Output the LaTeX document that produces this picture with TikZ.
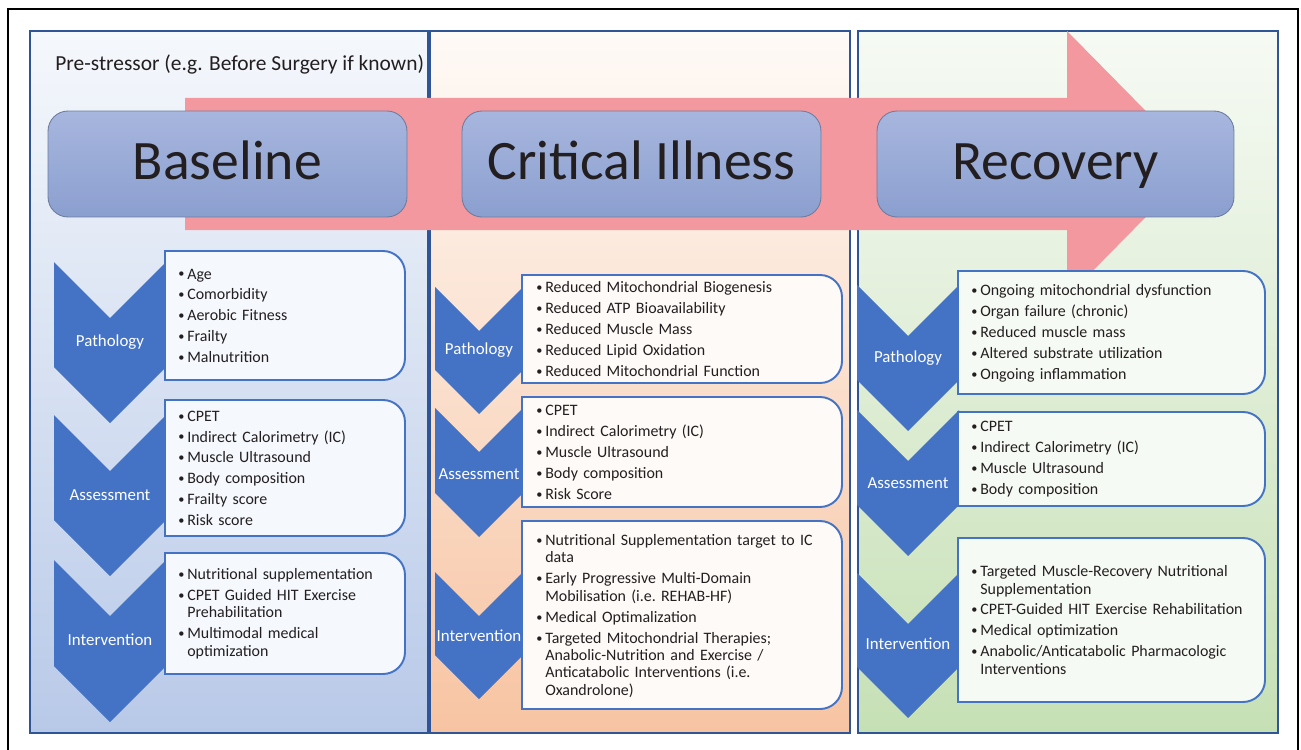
\documentclass[tikz,border=0pt]{standalone}
\usepackage{fontspec}
\setmainfont{Carlito}
\usepackage{tikz}
\definecolor{chevblue}{HTML}{4472C4}
\definecolor{framblue}{HTML}{2F5597}
\definecolor{arrowpink}{HTML}{F4989F}
\definecolor{inkgray}{HTML}{231F20}
\definecolor{titletop}{HTML}{A7B6DE}
\definecolor{titlebot}{HTML}{8B9FCF}
\definecolor{titleedge}{HTML}{6E7C9E}
\definecolor{boxblue}{HTML}{F5F8FC}
\definecolor{boxpeach}{HTML}{FEFAF7}
\definecolor{boxgreen}{HTML}{F6FAF4}
\definecolor{colblue}{RGB}{184,201,232}
\definecolor{colpeach}{RGB}{247,196,162}
\definecolor{colgreen}{RGB}{198,224,181}
\newcommand{\itm}{\par\leftskip=5.1pt\relax\noindent\hspace*{-5.1pt}\makebox[5.1pt][l]{\raisebox{0.6pt}{\fontsize{7}{7}\selectfont\textbullet}}}

\begin{document}
\begin{tikzpicture}[x=0.02cm,y=-0.02cm,
  panel/.style={draw=framblue,line width=1.4pt},
  chev/.style={fill=chevblue},
  tbox/.style={draw=chevblue,line width=1.1pt},
  title/.style={draw=titleedge,line width=0.5pt,rounded corners=0.4cm,top color=titletop,bottom color=titlebot,
    minimum width=7.18cm,minimum height=2.12cm,text height=24pt,text depth=6pt,
    font=\fontsize{31.7}{38}\selectfont,text=inkgray},
  lbl/.style={text=white,inner sep=0pt,font=\fontsize{9.6}{11}\selectfont},
  items/.style={anchor=west,inner sep=0pt,align=left,text=inkgray,
    font=\fontsize{9.07}{9.92}\selectfont\frenchspacing\setlength{\parskip}{2pt}}]
\useasboundingbox (0,0) rectangle (1301,750);
\clip (0,0) rectangle (1301,750);
\fill[white] (0,0) rectangle (1301,750);
\draw[line width=1.1pt] (8,9) rectangle (1298,800);
%columns
\draw[panel,top color=boxblue,bottom color=colblue] (30,31) rectangle (428,733);
\draw[panel,top color=boxpeach,bottom color=colpeach] (430,31) rectangle (850,733);
\draw[panel,top color=boxgreen,bottom color=colgreen] (858,31) rectangle (1278,733);
%big arrow
\fill[arrowpink] (185,98) -- (1067,98) -- (1067,31) -- (1198,164) -- (1067,297) -- (1067,230) -- (185,230) -- cycle;
\node[anchor=base west,inner sep=0pt,text=inkgray,font=\fontsize{12.2}{14}\selectfont] (pre) at (55,71) {Pre-stressor (e.g. Before Surgery if known)};
\node[title] (base) at (227.5,164) {Baseline};
\node[title] (crit) at (641.5,164) {Critical Illness};
\node[title,minimum width=7.14cm] (reco) at (1055.5,164) {Recovery};
%baseline column
\fill[chev] (54,262) -- (110,318) -- (166,262) -- (166,367) -- (110,423) -- (54,367) -- cycle;
\fill[chev] (54,415) -- (110,471) -- (166,415) -- (166,520) -- (110,576) -- (54,520) -- cycle;
\fill[chev] (54,560) -- (110,616) -- (166,560) -- (166,666) -- (110,722) -- (54,666) -- cycle;
\draw[tbox,fill=boxblue] (165,251) -- (383,251) arc[start angle=90,end angle=0,radius=0.44cm] -- (405,358) arc[start angle=0,end angle=-90,radius=0.44cm] -- (165,380) -- cycle;
\draw[tbox,fill=boxblue] (165,400) -- (383,400) arc[start angle=90,end angle=0,radius=0.44cm] -- (405,514) arc[start angle=0,end angle=-90,radius=0.44cm] -- (165,536) -- cycle;
\draw[tbox,fill=boxblue] (165,553) -- (383,553) arc[start angle=90,end angle=0,radius=0.44cm] -- (405,652) arc[start angle=0,end angle=-90,radius=0.44cm] -- (165,674) -- cycle;
\node[lbl] (bpath) at (110,342) {Pathology};
\node[lbl] (bass) at (110,495) {Assessment};
\node[lbl] (bint) at (110,640) {Intervention};
\node[items,text width=4.8cm] (bpathtx) at (178,310.5) {\itm Age\itm Comorbidity\itm Aerobic Fitness\itm Frailty\itm Malnutrition\par};
\node[items,text width=4.8cm] (basstx) at (178,463) {\itm CPET\itm Indirect Calorimetry (IC)\itm Muscle Ultrasound\itm Body composition\itm Frailty score\itm Risk score\par};
\node[items,text width=4.8cm] (binttx) at (178,608.5) {\itm Nutritional supplementation\itm CPET Guided HIT Exercise\newline Prehabilitation\itm Multimodal medical\newline optimization\par};
%critical illness column
\fill[chev] (435,287) -- (479,331) -- (523,287) -- (523,370) -- (479,414) -- (435,370) -- cycle;
\fill[chev] (435,408) -- (479,452) -- (523,408) -- (523,493) -- (479,537) -- (435,493) -- cycle;
\fill[chev] (435,572) -- (479,616) -- (523,572) -- (523,655) -- (479,699) -- (435,655) -- cycle;
\draw[tbox,fill=boxpeach] (522,275) -- (820,275) arc[start angle=90,end angle=0,radius=0.44cm] -- (842,361) arc[start angle=0,end angle=-90,radius=0.44cm] -- (522,383) -- cycle;
\draw[tbox,fill=boxpeach] (522,397) -- (820,397) arc[start angle=90,end angle=0,radius=0.44cm] -- (842,485) arc[start angle=0,end angle=-90,radius=0.44cm] -- (522,507) -- cycle;
\draw[tbox,fill=boxpeach] (522,521) -- (820,521) arc[start angle=90,end angle=0,radius=0.44cm] -- (842,687) arc[start angle=0,end angle=-90,radius=0.44cm] -- (522,709) -- cycle;
\node[lbl] (cpath) at (479,350) {Pathology};
\node[lbl] (cass) at (479,474) {Assessment};
\node[lbl] (cint) at (479,636) {Intervention};
\node[items,text width=6.3cm] (cpathtx) at (536,324) {\itm Reduced Mitochondrial Biogenesis\itm Reduced ATP Bioavailability\itm Reduced Muscle Mass\itm Reduced Lipid Oxidation\itm Reduced Mitochondrial Function\par};
\node[items,text width=6.3cm] (casstx) at (536,447) {\itm CPET\itm Indirect Calorimetry (IC)\itm Muscle Ultrasound\itm Body composition\itm Risk Score\par};
\node[items,text width=6.3cm] (cinttx) at (536,611) {\itm Nutritional Supplementation target to IC\newline data\itm Early Progressive Multi-Domain\newline Mobilisation (i.e. REHAB-HF)\itm Medical Optimalization\itm Targeted Mitochondrial Therapies;\newline Anabolic-Nutrition and Exercise /\newline Anticatabolic Interventions (i.e.\newline Oxandrolone)\par};
%recovery column
\fill[chev] (857,285) -- (908,336) -- (959,285) -- (959,380) -- (908,431) -- (857,380) -- cycle;
\fill[chev] (857,410) -- (908,461) -- (959,410) -- (959,505) -- (908,556) -- (857,505) -- cycle;
\fill[chev] (857,573) -- (908,624) -- (959,573) -- (959,667) -- (908,718) -- (857,667) -- cycle;
\draw[tbox,fill=boxgreen] (958,271) -- (1243,271) arc[start angle=90,end angle=0,radius=0.44cm] -- (1265,372) arc[start angle=0,end angle=-90,radius=0.44cm] -- (958,394) -- cycle;
\draw[tbox,fill=boxgreen] (958,412) -- (1243,412) arc[start angle=90,end angle=0,radius=0.44cm] -- (1265,484) arc[start angle=0,end angle=-90,radius=0.44cm] -- (958,506) -- cycle;
\draw[tbox,fill=boxgreen] (958,538) -- (1243,538) arc[start angle=90,end angle=0,radius=0.44cm] -- (1265,680) arc[start angle=0,end angle=-90,radius=0.44cm] -- (958,702) -- cycle;
\node[lbl] (rpath) at (908,358) {Pathology};
\node[lbl] (rass) at (908,483) {Assessment};
\node[lbl] (rint) at (908,644) {Intervention};
\node[items,text width=6.2cm] (rpathtx) at (971,328.5) {\itm Ongoing mitochondrial dysfunction\itm Organ failure (chronic)\itm Reduced muscle mass\itm Altered substrate utilization\itm Ongoing inflammation\par};
\node[items,text width=6.2cm] (rasstx) at (971,454) {\itm CPET\itm Indirect Calorimetry (IC)\itm Muscle Ultrasound\itm Body composition\par};
\node[items,text width=6.2cm] (rinttx) at (971,615) {\itm Targeted Muscle-Recovery Nutritional\newline Supplementation\itm CPET-Guided HIT Exercise Rehabilitation\itm Medical optimization\itm Anabolic/Anticatabolic Pharmacologic\newline Interventions\par};
\end{tikzpicture}
\end{document}
